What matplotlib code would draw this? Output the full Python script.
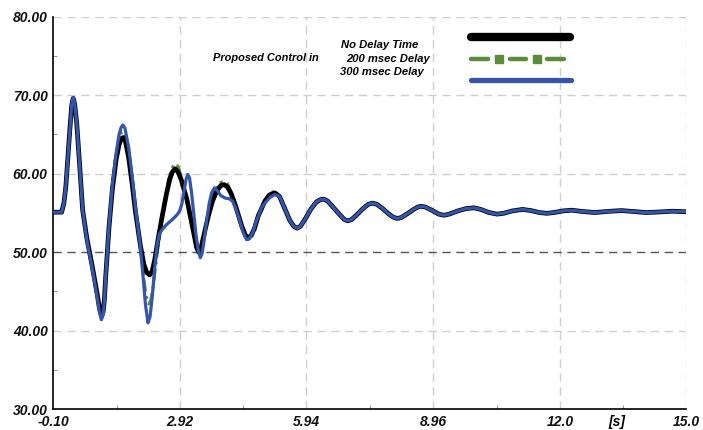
import numpy as np
from matplotlib import pyplot as plt
from matplotlib.ticker import FixedLocator

# time axis [s] and tick labels
x_ticks = [-0.10, 2.92, 5.94, 8.96, 12.0, 15.0]
x_labels = ['-0.10', '2.92', '5.94', '8.96', '12.0', '15.0']
y_ticks = [30, 40, 50, 60, 70, 80]
y_labels = ['30.00', '40.00', '50.00', '60.00', '70.00', '80.00']

# first swings, no delay
t_black = [-0.10, 0.10, 0.155, 0.20, 0.245, 0.30, 0.34, 0.375, 0.41, 0.46, 0.53, 0.60, 0.70, 0.83,
           0.95, 1.00, 1.05, 1.09, 1.12, 1.15, 1.23, 1.31, 1.40, 1.47, 1.53, 1.57, 1.62, 1.70,
           1.78, 1.86, 1.98, 2.06, 2.13, 2.20, 2.26, 2.32, 2.40, 2.50, 2.60, 2.68, 2.75, 2.81,
           2.87, 2.95, 3.09, 3.25, 3.32, 3.37, 3.42, 3.50, 3.60, 3.70, 3.80, 3.90, 3.98, 4.06,
           4.15, 4.25, 4.40, 4.48, 4.55, 4.62, 4.70, 4.79, 4.95, 5.06, 5.19]
v_black = [55.1, 55.1, 56.3, 58.4, 61.8, 66.0, 68.7, 69.6, 68.9, 66.4, 61.0, 55.4, 51.8, 48.2,
           44.6, 42.9, 41.9, 42.4, 44.0, 46.8, 53.2, 58.0, 61.8, 63.7, 64.5, 64.6, 64.2, 62.0,
           58.8, 55.2, 50.8, 48.5, 47.4, 47.1, 47.6, 49.0, 51.6, 54.6, 57.4, 59.3, 60.3, 60.6,
           60.3, 59.3, 56.7, 52.5, 50.6, 50.0, 50.4, 52.3, 54.6, 56.5, 57.8, 58.5, 58.6, 58.3,
           57.4, 55.9, 53.3, 52.2, 51.85, 52.1, 53.0, 54.6, 56.5, 57.3, 57.55]

# first swings, 200 msec delay
t_green = [-0.10, 0.10, 0.155, 0.20, 0.245, 0.30, 0.34, 0.375, 0.41, 0.46, 0.53, 0.60, 0.70, 0.83,
           0.95, 1.00, 1.05, 1.09, 1.12, 1.15, 1.23, 1.31, 1.40, 1.47, 1.53, 1.57, 1.62, 1.70,
           1.78, 1.86, 1.98, 2.06, 2.12, 2.18, 2.23, 2.29, 2.36, 2.45, 2.55, 2.65, 2.73, 2.81,
           2.88, 2.97, 3.09, 3.25, 3.32, 3.37, 3.42, 3.50, 3.60, 3.70, 3.80, 3.90, 3.98, 4.06,
           4.15, 4.25, 4.40, 4.48, 4.55, 4.62, 4.70, 4.79, 4.95, 5.06, 5.19]
v_green = [55.1, 55.1, 56.3, 58.4, 61.8, 66.0, 68.7, 69.6, 68.9, 66.4, 61.0, 55.4, 51.7, 48.0,
           44.4, 42.6, 41.6, 42.2, 43.9, 46.8, 53.2, 58.3, 62.3, 64.5, 65.3, 65.4, 65.0, 62.6,
           59.3, 55.5, 50.4, 46.6, 44.3, 43.4, 43.9, 45.8, 49.0, 52.8, 56.3, 59.2, 60.7, 61.3,
           60.9, 59.3, 56.5, 52.2, 50.5, 50.0, 50.4, 52.2, 54.8, 56.9, 58.2, 58.9, 59.0, 58.7,
           57.6, 56.0, 53.2, 52.0, 51.6, 51.9, 52.8, 54.5, 56.6, 57.5, 57.75]

# first swings, 300 msec delay
t_blue = [-0.10, 0.10, 0.155, 0.20, 0.245, 0.30, 0.34, 0.375, 0.41, 0.46, 0.53, 0.60, 0.70, 0.83,
          0.95, 1.00, 1.047, 1.09, 1.12, 1.15, 1.23, 1.31, 1.40, 1.47, 1.52, 1.56, 1.61, 1.70,
          1.78, 1.86, 1.98, 2.05, 2.10, 2.16, 2.21, 2.26, 2.32, 2.38, 2.44, 2.50, 2.60, 2.75,
          2.86, 2.92, 2.97, 3.02, 3.07, 3.11, 3.15, 3.20, 3.25, 3.30, 3.36, 3.41, 3.45, 3.50,
          3.56, 3.62, 3.68, 3.75, 3.82, 3.90, 4.00, 4.10, 4.18, 4.26, 4.34, 4.42, 4.51, 4.58,
          4.66, 4.75, 4.87, 4.97, 5.08, 5.19]
v_blue = [55.1, 55.1, 56.3, 58.4, 61.8, 66.0, 68.8, 69.7, 69.0, 66.5, 61.0, 55.4, 51.6, 47.9,
          44.2, 42.4, 41.4, 42.0, 43.8, 46.8, 53.3, 58.6, 62.6, 65.0, 65.9, 66.2, 65.8, 63.3,
          59.8, 55.8, 50.6, 46.5, 43.3, 41.0, 41.8, 44.2, 48.0, 51.0, 52.4, 52.9, 53.5, 54.2,
          54.8, 55.3, 56.2, 57.8, 59.3, 59.9, 59.5, 57.6, 55.0, 52.5, 50.2, 49.3, 49.8, 51.5,
          54.0, 56.2, 57.6, 58.2, 57.8, 57.2, 56.9, 56.8, 56.5, 55.5, 54.2, 52.7, 51.6, 51.7,
          52.5, 54.0, 55.66, 56.4, 57.0, 57.35]

# damped tail common to all three cases
t_tail = [5.30, 5.42, 5.55, 5.64, 5.72, 5.80, 5.92, 6.05, 6.18, 6.28, 6.36, 6.45, 6.60, 6.75,
          6.85, 6.93, 7.02, 7.15, 7.30, 7.42, 7.52, 7.62, 7.75, 7.90, 8.00, 8.10, 8.20, 8.35,
          8.50, 8.60, 8.67, 8.78, 8.95, 9.10, 9.22, 9.35, 9.55, 9.75, 9.94, 10.10, 10.30, 10.49,
          10.65, 10.85, 11.10, 11.30, 11.50, 11.68, 11.85, 12.05, 12.27, 12.50, 12.82, 13.15,
          13.46, 13.75, 14.05, 14.35, 14.68, 15.0]
v_tail = [57.1, 55.6, 54.0, 53.3, 53.05, 53.3, 54.3, 55.5, 56.4, 56.7, 56.75, 56.5, 55.6, 54.7,
          54.15, 54.0, 54.15, 54.8, 55.6, 56.1, 56.25, 56.1, 55.6, 54.9, 54.5, 54.3, 54.4, 54.9,
          55.45, 55.75, 55.85, 55.75, 55.3, 54.85, 54.7, 54.85, 55.25, 55.55, 55.65, 55.45, 55.05, 54.85,
          54.95, 55.25, 55.45, 55.3, 55.05, 54.95, 55.05, 55.25, 55.35, 55.2, 55.05, 55.2,
          55.3, 55.18, 55.05, 55.12, 55.22, 55.15]

c_black = '#000000'
c_green = '#5b8c3c'
c_blue = '#3455aa'

font = dict(family='Liberation Sans', weight='bold', style='italic')

fig = plt.figure(figsize=(7.03, 4.30), dpi=100)
ax = fig.add_axes([0.0758, 0.0484, 0.9000, 0.9128])

ax.set_xlim(-0.10, 15.0)
ax.set_ylim(30, 80)

# grid
for xv in x_ticks[1:]:
    ax.axvline(xv, color='#cfcfcf', lw=1.0, ls=(0, (6, 4)), zorder=1)
for yv in y_ticks[1:]:
    if yv == 50:
        ax.axhline(yv, color='#555555', lw=1.0, ls=(0, (6, 4)), zorder=1)
    else:
        ax.axhline(yv, color='#cfcfcf', lw=1.0, ls=(0, (6, 4)), zorder=1)

tb = np.concatenate([t_black, t_tail])
vb = np.concatenate([v_black, v_tail])
tg = np.concatenate([t_green, t_tail])
vg = np.concatenate([v_green, v_tail])
tl = np.concatenate([t_blue, t_tail])
vl = np.concatenate([v_blue, v_tail])

ax.plot(tg, vg, color=c_green, lw=2.2, ls=(0, (4, 1.5, 1, 1.5)), zorder=3)
ax.plot(tb, vb, color=c_black, lw=3.4, solid_joinstyle='round', zorder=4)
ax.plot(tl, vl, color=c_blue, lw=2.3, solid_joinstyle='round', zorder=6)

# axes styling
for s in ['top', 'right']:
    ax.spines[s].set_visible(False)
ax.spines['left'].set_linewidth(1.2)
ax.spines['bottom'].set_linewidth(1.2)

ax.set_xticks(x_ticks)
ax.set_xticklabels(x_labels, **font, fontsize=10, color='#111111')
ax.set_yticks(y_ticks)
ax.set_yticklabels(y_labels, **font, fontsize=10, color='#111111')
ax.tick_params(axis='both', which='major', length=0, pad=4)
ax.xaxis.set_minor_locator(FixedLocator([(x_ticks[i] + x_ticks[i + 1]) / 2 for i in range(len(x_ticks) - 1)]))
ax.yaxis.set_minor_locator(FixedLocator([35, 45, 55, 65, 75]))
ax.tick_params(axis='both', which='minor', direction='in', length=3, width=0.8, color='#999999')

ax.text(13.36, 29.25, '[s]', ha='center', va='top', fontsize=10, **font)

# legend text
fig.text(266 / 703, 1 - 58 / 430, 'Proposed Control in', ha='center', va='center', fontsize=7.9, **font)
fig.text(380 / 703, 1 - 45 / 430, 'No Delay Time', ha='center', va='center', fontsize=8.1, **font)
fig.text(388 / 703, 1 - 58.5 / 430, '200 msec Delay', ha='center', va='center', fontsize=8.1, **font)
fig.text(382 / 703, 1 - 72 / 430, '300 msec Delay', ha='center', va='center', fontsize=8.1, **font)

# legend swatches
y_k, y_g, y_b = 1 - 37 / 430, 1 - 59 / 430, 1 - 80 / 430
fig.add_artist(plt.Line2D([471 / 703, 570 / 703], [y_k, y_k], color=c_black, lw=6, solid_capstyle='round'))
for x0, x1 in [(471, 488), (510, 526), (547, 564)]:
    fig.add_artist(plt.Line2D([x0 / 703, x1 / 703], [y_g, y_g], color=c_green, lw=3.2,
                              solid_capstyle='round'))
fig.add_artist(plt.Line2D([498.8 / 703, 536.7 / 703], [y_g, y_g], color=c_green, lw=0,
                          marker='s', markersize=6.2))
fig.add_artist(plt.Line2D([471 / 703, 571 / 703], [y_b, y_b], color=c_blue, lw=3.8, solid_capstyle='round'))

fig.savefig('out.png', dpi=100)
